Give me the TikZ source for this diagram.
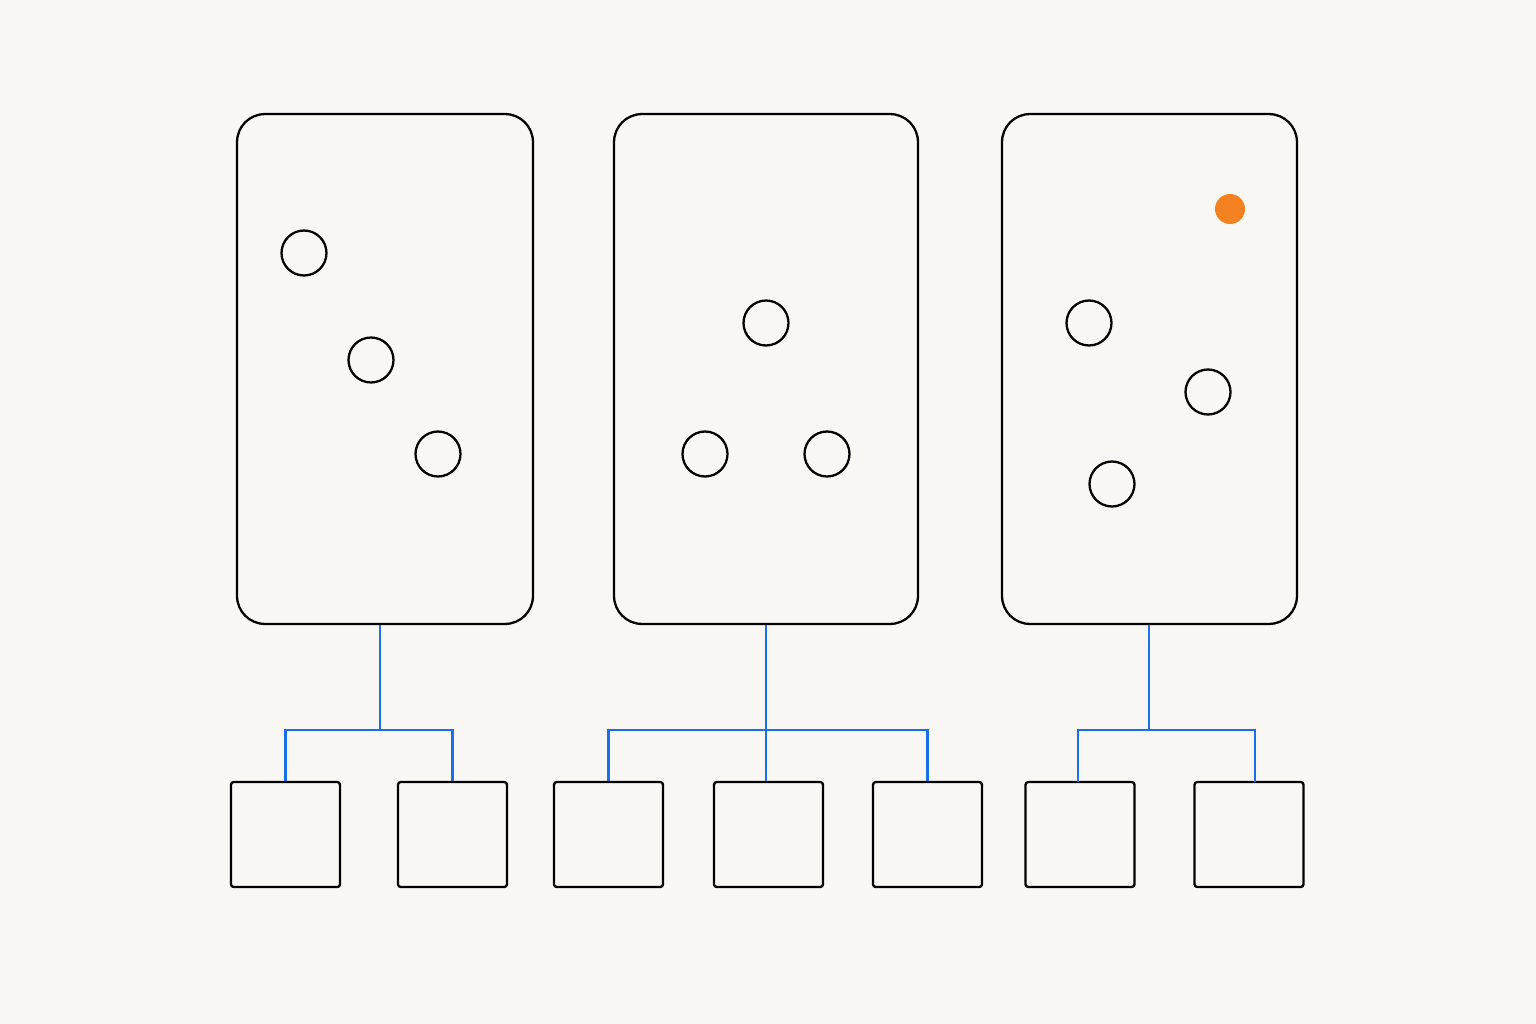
\documentclass[tikz,border=0pt]{standalone}
\usepackage{xcolor}
\usetikzlibrary{positioning}

\definecolor{paper}{HTML}{F8F7F3}
\definecolor{linkblue}{HTML}{1A6FE8}
\definecolor{dotorange}{HTML}{F58220}

\begin{document}
\begin{tikzpicture}[x=0.02cm,y=-0.02cm,line width=1.3pt]
        \tikzstyle{panel}=[draw=black,rounded corners=0.56cm,minimum height=10.2cm,inner sep=0pt]
        \tikzstyle{token}=[draw=black,circle,minimum size=0.9cm,inner sep=0pt]
        \tikzstyle{slot}=[draw=black,rounded corners=1.5pt,minimum width=2.18cm,minimum height=2.1cm,inner sep=0pt]
        \tikzstyle{link}=[draw=linkblue]

        \fill[paper] (0,0) rectangle (1536,1024);
        \useasboundingbox (0,0) rectangle (1536,1024);

        % panels
        \node[panel,minimum width=5.92cm] (P1) at (385,369)    {};
        \node[panel,minimum width=6.08cm] (P2) at (766,369)    {};
        \node[panel,minimum width=5.9cm]  (P3) at (1149.5,369) {};

        % tokens
        \node[token] (a1) at (304,253) {};
        \node[token] (a2) at (371,360) {};
        \node[token] (a3) at (438,454) {};
        \node[token] (b1) at (766,323) {};
        \node[token] (b2) at (705,454) {};
        \node[token] (b3) at (827,454) {};
        \node[token] (c1) at (1089,323) {};
        \node[token] (c2) at (1208,392) {};
        \node[token] (c3) at (1112,484) {};
        \node[circle,fill=dotorange,minimum size=0.6cm,inner sep=0pt] (hot) at (1230,209) {};

        % slots
        \node[slot] (S1) at (285.5,834.5)  {};
        \node[slot] (S2) at (452.5,834.5)  {};
        \node[slot] (S3) at (608.5,834.5)  {};
        \node[slot] (S4) at (768.5,834.5)  {};
        \node[slot] (S5) at (927.5,834.5)  {};
        \node[slot] (S6) at (1080,834.5)   {};
        \node[slot] (S7) at (1249,834.5)   {};

        % links
        \coordinate (J1) at (380,730);
        \coordinate (J2) at (766,730);
        \coordinate (J3) at (1149,730);
        \coordinate (T6) at (1078,782);
        \coordinate (T7) at (1255,782);

        \draw[link] (P1.south -| J1) -- (J1);
        \draw[link] (S1.north) |- (J1) -| (S2.north);
        \draw[link] (P2.south -| J2) -- (J2) -- (J2 |- S4.north);
        \draw[link] (S3.north) |- (J2) -| (S5.north);
        \draw[link] (P3.south -| J3) -- (J3);
        \draw[link] (T6) |- (J3) -| (T7);
\end{tikzpicture}
\end{document}
